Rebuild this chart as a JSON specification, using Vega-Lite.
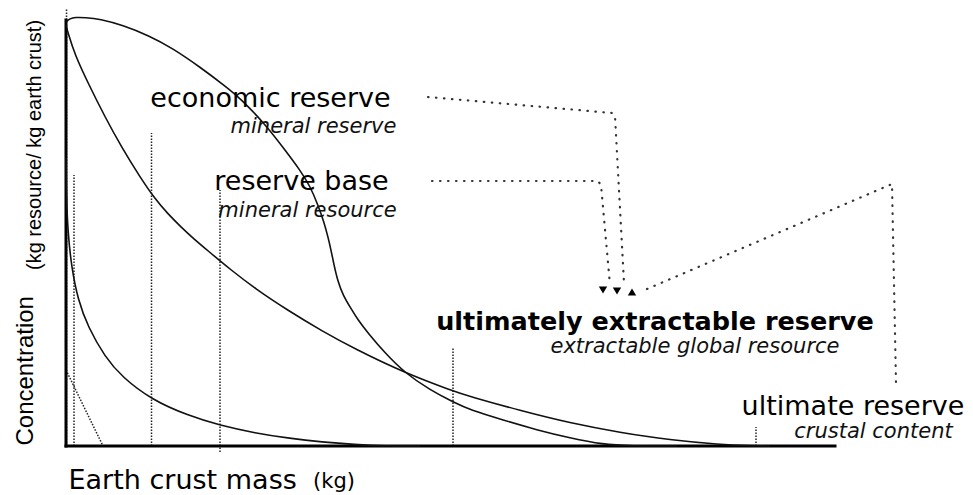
{
  "$schema": "https://vega.github.io/schema/vega-lite/v6.json",
  "width": 900,
  "height": 440,
  "autosize": {"type": "none"},
  "padding": {"left": 66, "top": 6, "right": 7, "bottom": 49},
  "config": {"view": {"stroke": null}, "font": "DejaVu Sans"},
  "datasets": {
    "curves": [
      {"series": "A", "x": 0, "y": 106},
      {"series": "A", "x": 0.8, "y": 106.875},
      {"series": "A", "x": 1.8, "y": 107.175},
      {"series": "A", "x": 3.8, "y": 107.125},
      {"series": "A", "x": 6.8, "y": 106.75},
      {"series": "A", "x": 11.2, "y": 105.25},
      {"series": "A", "x": 16.8, "y": 102.5},
      {"series": "A", "x": 21.2, "y": 99.5},
      {"series": "A", "x": 26.8, "y": 94.75},
      {"series": "A", "x": 31.8, "y": 90},
      {"series": "A", "x": 34.8, "y": 87},
      {"series": "A", "x": 39.8, "y": 80.5},
      {"series": "A", "x": 43.8, "y": 74},
      {"series": "A", "x": 46.8, "y": 69},
      {"series": "A", "x": 48.8, "y": 65},
      {"series": "A", "x": 50.4, "y": 60.25},
      {"series": "A", "x": 51.6, "y": 56},
      {"series": "A", "x": 52.4, "y": 52.25},
      {"series": "A", "x": 53, "y": 49},
      {"series": "A", "x": 53.6, "y": 45.25},
      {"series": "A", "x": 54.4, "y": 41},
      {"series": "A", "x": 55.4, "y": 37.75},
      {"series": "A", "x": 56.8, "y": 34.75},
      {"series": "A", "x": 58.4, "y": 31.5},
      {"series": "A", "x": 60.4, "y": 28.25},
      {"series": "A", "x": 63.8, "y": 23.25},
      {"series": "A", "x": 67.8, "y": 18.25},
      {"series": "A", "x": 72.8, "y": 14},
      {"series": "A", "x": 77.4, "y": 11},
      {"series": "A", "x": 80.8, "y": 9},
      {"series": "A", "x": 87.4, "y": 6.5},
      {"series": "A", "x": 94.2, "y": 4},
      {"series": "A", "x": 100.8, "y": 2},
      {"series": "A", "x": 107.4, "y": 0.375},
      {"series": "A", "x": 112.8, "y": 0},
      {"series": "A", "x": 122.2, "y": 0},
      {"series": "B", "x": 0, "y": 105.25},
      {"series": "B", "x": 0.4, "y": 103.25},
      {"series": "B", "x": 1.8, "y": 97.75},
      {"series": "B", "x": 4.4, "y": 90.75},
      {"series": "B", "x": 7.8, "y": 82.25},
      {"series": "B", "x": 11.2, "y": 74.5},
      {"series": "B", "x": 14.8, "y": 67.25},
      {"series": "B", "x": 17.8, "y": 61.75},
      {"series": "B", "x": 20.4, "y": 58},
      {"series": "B", "x": 23, "y": 54.75},
      {"series": "B", "x": 25.6, "y": 51.75},
      {"series": "B", "x": 28.2, "y": 49},
      {"series": "B", "x": 33, "y": 44},
      {"series": "B", "x": 37.8, "y": 39.375},
      {"series": "B", "x": 44.4, "y": 33.875},
      {"series": "B", "x": 51.2, "y": 28.75},
      {"series": "B", "x": 57.8, "y": 24.25},
      {"series": "B", "x": 67.8, "y": 18.25},
      {"series": "B", "x": 77.4, "y": 13.75},
      {"series": "B", "x": 80.8, "y": 12.375},
      {"series": "B", "x": 90.8, "y": 8.875},
      {"series": "B", "x": 100.8, "y": 5.75},
      {"series": "B", "x": 110.8, "y": 3.375},
      {"series": "B", "x": 120.8, "y": 1.5},
      {"series": "B", "x": 130.8, "y": 0.375},
      {"series": "B", "x": 136.8, "y": 0.075},
      {"series": "B", "x": 140.8, "y": 0},
      {"series": "C", "x": 0, "y": 72},
      {"series": "C", "x": 0.1, "y": 61.5},
      {"series": "C", "x": 0.4, "y": 53.25},
      {"series": "C", "x": 1.1, "y": 44.75},
      {"series": "C", "x": 2.4, "y": 36.5},
      {"series": "C", "x": 4.4, "y": 29.75},
      {"series": "C", "x": 7.8, "y": 22.25},
      {"series": "C", "x": 11.2, "y": 17.25},
      {"series": "C", "x": 17.2, "y": 11.5},
      {"series": "C", "x": 24.4, "y": 7.625},
      {"series": "C", "x": 30.8, "y": 5.125},
      {"series": "C", "x": 37.8, "y": 3.25},
      {"series": "C", "x": 44.8, "y": 1.875},
      {"series": "C", "x": 51.2, "y": 1},
      {"series": "C", "x": 57.8, "y": 0.375},
      {"series": "C", "x": 63.8, "y": 0},
      {"series": "C", "x": 70.8, "y": 0}
    ],
    "guides": [
      {"id": "g1", "i": 0, "x": 0.1, "y": 0},
      {"id": "g1", "i": 1, "x": 0.1, "y": 109.5},
      {"id": "g2", "i": 0, "x": 1.6, "y": 0},
      {"id": "g2", "i": 1, "x": 1.6, "y": 67.75},
      {"id": "g3", "i": 0, "x": 17.1, "y": 0},
      {"id": "g3", "i": 1, "x": 17.1, "y": 78.25},
      {"id": "g4", "i": 0, "x": 30.8, "y": -1.5},
      {"id": "g4", "i": 1, "x": 30.8, "y": 64},
      {"id": "g5", "i": 0, "x": 77.4, "y": 0},
      {"id": "g5", "i": 1, "x": 77.4, "y": 24.75},
      {"id": "g6", "i": 0, "x": 138, "y": 0},
      {"id": "g6", "i": 1, "x": 138, "y": 4.75},
      {"id": "g7", "i": 0, "x": 0, "y": 19},
      {"id": "g7", "i": 1, "x": 7.4, "y": 0}
    ],
    "axislines": [
      {"id": "ax", "i": 0, "x": 0, "y": 0},
      {"id": "ax", "i": 1, "x": 153.8, "y": 0},
      {"id": "ay", "i": 0, "x": 0, "y": 0},
      {"id": "ay", "i": 1, "x": 0, "y": 106.5}
    ],
    "connectors": [
      {"id": "econ", "i": 0, "x": 72.4, "y": 87.25},
      {"id": "econ", "i": 1, "x": 109.2, "y": 83.25},
      {"id": "econ", "i": 2, "x": 109.8, "y": 82.5},
      {"id": "econ", "i": 3, "x": 111.6, "y": 40.75},
      {"id": "base", "i": 0, "x": 73.2, "y": 66.25},
      {"id": "base", "i": 1, "x": 106.4, "y": 66.25},
      {"id": "base", "i": 2, "x": 107, "y": 65.25},
      {"id": "base", "i": 3, "x": 108.8, "y": 40.25},
      {"id": "ult", "i": 0, "x": 116.2, "y": 39.25},
      {"id": "ult", "i": 1, "x": 165.2, "y": 65.5},
      {"id": "ult", "i": 2, "x": 166, "y": 15.75}
    ],
    "arrows": [
      {"x": 107.4, "y": 39, "dir": "down"},
      {"x": 110.2, "y": 38.75, "dir": "down"},
      {"x": 113.2, "y": 38.5, "dir": "up"}
    ],
    "labels": [
      {"text": "economic reserve", "kind": "main", "x": 40.9, "y": 84.75},
      {"text": "mineral reserve", "kind": "sub", "x": 49.5, "y": 78.25},
      {"text": "reserve base", "kind": "main", "x": 47.1, "y": 64},
      {"text": "mineral resource", "kind": "sub", "x": 48.3, "y": 57.25},
      {"text": "ultimately extractable reserve", "kind": "bold", "x": 117.8, "y": 29},
      {"text": "extractable global resource", "kind": "sub", "x": 125.8, "y": 23.25},
      {"text": "ultimate reserve", "kind": "main", "x": 157.4, "y": 7.75},
      {"text": "crustal content", "kind": "sub", "x": 161.5, "y": 2},
      {"text": "(kg)", "kind": "unit", "x": 53.6, "y": -10.5},
      {"text": "(kg resource/ kg earth crust)", "kind": "unitv", "x": -5, "y": 44}
    ]
  },
  "encoding": {
    "x": {
      "field": "x", "type": "quantitative",
      "scale": {"domain": [0, 180], "nice": false, "zero": false},
      "axis": {
        "title": "Earth crust mass", "domain": false, "ticks": false, "labels": false, "grid": false,
        "titleFont": "DejaVu Sans", "titleFontSize": 27, "titleFontWeight": "normal", "titleColor": "#000",
        "titleAlign": "left", "titleBaseline": "alphabetic", "titleX": 2, "titleY": 42
      }
    },
    "y": {
      "field": "y", "type": "quantitative",
      "scale": {"domain": [0, 110], "nice": false, "zero": false},
      "axis": {
        "title": "Concentration", "domain": false, "ticks": false, "labels": false, "grid": false,
        "titleFont": "Liberation Sans", "titleFontSize": 24, "titleFontWeight": "normal", "titleColor": "#000",
        "titleAngle": 270, "titleAlign": "left", "titleBaseline": "alphabetic", "titleX": -34, "titleY": 439
      }
    }
  },
  "layer": [
    {
      "data": {"name": "guides"},
      "mark": {"type": "line", "color": "#222", "strokeWidth": 1.5, "strokeDash": [1.5, 1.5]},
      "encoding": {"detail": {"field": "id"}, "order": {"field": "i", "type": "quantitative"}}
    },
    {
      "data": {"name": "axislines"},
      "mark": {"type": "line", "color": "#000", "strokeWidth": 3, "strokeCap": "square"},
      "encoding": {"detail": {"field": "id"}, "order": {"field": "i", "type": "quantitative"}}
    },
    {
      "data": {"name": "curves"},
      "mark": {"type": "line", "color": "#111", "strokeWidth": 1.6, "interpolate": "basis"},
      "encoding": {"detail": {"field": "series"}}
    },
    {
      "data": {"name": "connectors"},
      "mark": {"type": "line", "color": "#333", "strokeWidth": 2.2, "strokeCap": "round", "strokeDash": [0.5, 7.5]},
      "encoding": {"detail": {"field": "id"}, "order": {"field": "i", "type": "quantitative"}}
    },
    {
      "data": {"name": "arrows"},
      "mark": {"type": "point", "filled": true, "color": "#000", "size": 70, "opacity": 1},
      "encoding": {
        "shape": {"field": "dir", "type": "nominal", "scale": {"domain": ["down", "up"], "range": ["triangle-down", "triangle-up"]}, "legend": null}
      }
    },
    {
      "data": {"name": "labels"},
      "transform": [{"filter": "datum.kind === 'main'"}],
      "mark": {"type": "text", "font": "DejaVu Sans", "fontSize": 27, "align": "center", "baseline": "alphabetic", "color": "#000"},
      "encoding": {"text": {"field": "text"}}
    },
    {
      "data": {"name": "labels"},
      "transform": [{"filter": "datum.kind === 'sub'"}],
      "mark": {"type": "text", "font": "DejaVu Sans", "fontSize": 21, "fontStyle": "italic", "align": "center", "baseline": "alphabetic", "color": "#111"},
      "encoding": {"text": {"field": "text"}}
    },
    {
      "data": {"name": "labels"},
      "transform": [{"filter": "datum.kind === 'bold'"}],
      "mark": {"type": "text", "font": "DejaVu Sans", "fontSize": 25.5, "fontWeight": "bold", "align": "center", "baseline": "alphabetic", "color": "#000"},
      "encoding": {"text": {"field": "text"}}
    },
    {
      "data": {"name": "labels"},
      "transform": [{"filter": "datum.kind === 'unit'"}],
      "mark": {"type": "text", "font": "DejaVu Sans", "fontSize": 21, "align": "center", "baseline": "alphabetic", "color": "#000"},
      "encoding": {"text": {"field": "text"}}
    },
    {
      "data": {"name": "labels"},
      "transform": [{"filter": "datum.kind === 'unitv'"}],
      "mark": {"type": "text", "font": "Liberation Sans", "fontSize": 20, "angle": 270, "align": "left", "baseline": "alphabetic", "color": "#000"},
      "encoding": {"text": {"field": "text"}}
    }
  ]
}
